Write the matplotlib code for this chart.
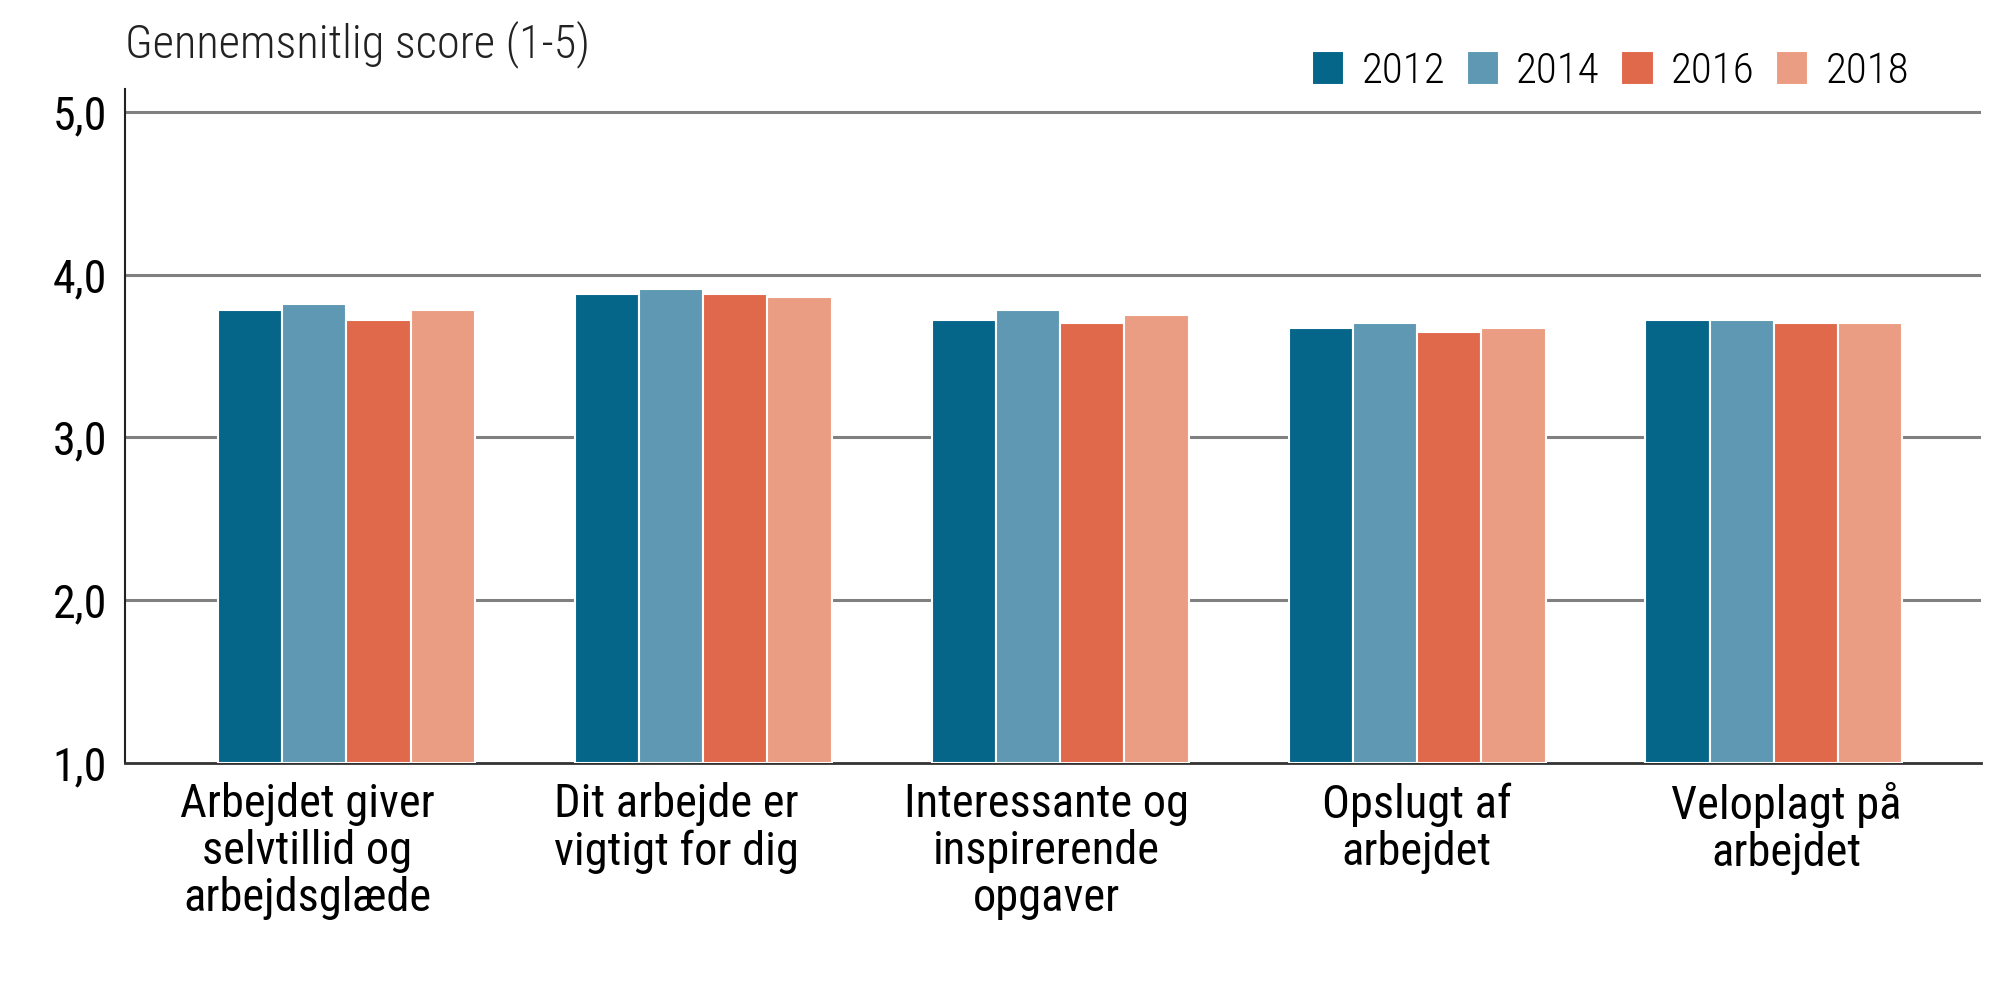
import numpy as np
import matplotlib
matplotlib.use("Agg")
import matplotlib.pyplot as plt

categories = [
    "Arbejdet giver\nselvtillid og\narbejdsglæde",
    "Dit arbejde er\nvigtigt for dig",
    "Interessante og\ninspirerende\nopgaver",
    "Opslugt af\narbejdet",
    "Veloplagt på\narbejdet",
]
years = ["2012", "2014", "2016", "2018"]
scores_2012 = [3.78, 3.88, 3.72, 3.67, 3.72]
scores_2014 = [3.82, 3.91, 3.78, 3.70, 3.72]
scores_2016 = [3.72, 3.88, 3.70, 3.65, 3.70]
scores_2018 = [3.78, 3.86, 3.75, 3.67, 3.70]
yticks = [1, 2, 3, 4, 5]
colors = ["#05668a", "#5f98b3", "#e0684b", "#eb9d83"]

plt.rcParams["font.family"] = ["Roboto Condensed", "Roboto", "DejaVu Sans"]

fig = plt.figure(figsize=(20, 10.06), dpi=100)
ax = fig.add_axes([0.0625, 0.2416, 0.928, 0.67])

series = [scores_2012, scores_2014, scores_2016, scores_2018]
x = np.arange(len(categories))
w = 0.18
for i, (vals, col, yr) in enumerate(zip(series, colors, years)):
    ax.bar(x + (i - 1.5) * w, np.array(vals) - 1, w, bottom=1, color=col,
           edgecolor="white", linewidth=1.5, label=yr, zorder=3)

ax.set_xlim(-0.62, 4.58)
ax.set_ylim(1, 5.14)
ax.set_yticks(yticks)
ax.set_yticklabels([f"{t:.1f}".replace(".", ",") for t in yticks], fontsize=33)
# category labels in the original sit on a slightly wider spacing than the bars
ax.set_xticks(x * 1.036 - 0.11)
ax.set_xticklabels(categories, fontsize=33.5, linespacing=1.08)
ax.tick_params(axis="y", length=0, pad=13)
ax.tick_params(axis="x", length=0, pad=14)

for t in yticks[1:]:
    ax.axhline(t, color="#808080", linewidth=2.2, zorder=1)

for s in ["top", "right"]:
    ax.spines[s].set_visible(False)
ax.spines["left"].set_color("#222222")
ax.spines["left"].set_linewidth(1.5)
ax.spines["bottom"].set_color("#333333")
ax.spines["bottom"].set_linewidth(2)

fig.text(0.0625, 0.956, "Gennemsnitlig score (1-5)", fontsize=33.5,
         fontweight="light", ha="left", va="center", color="#222222")

leg = fig.legend(loc="center right", bbox_to_anchor=(0.974, 0.929), ncol=4,
                 frameon=False, fontsize=31, handlelength=0.75, handleheight=0.85,
                 handletextpad=0.4, columnspacing=0.5)
for txt in leg.get_texts():
    txt.set_fontweight("light")

fig.savefig("out.png", dpi=100, facecolor="white")
